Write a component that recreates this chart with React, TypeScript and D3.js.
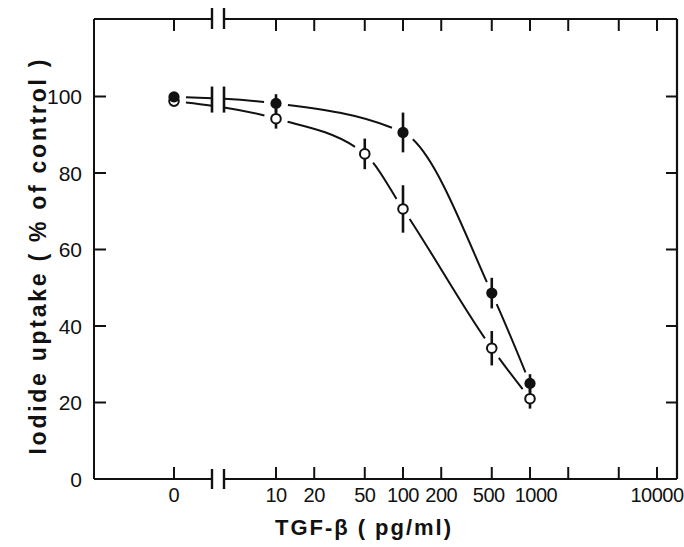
import React from "react";
import * as d3 from "d3";

const filledDose = [0, 10, 100, 500, 1000];
const filledUptake = [99.9, 98.2, 90.6, 48.6, 25.0];
const filledErr = [0, 2.4, 5.2, 4.0, 2.4];

const openDose = [0, 10, 50, 100, 500, 1000];
const openUptake = [98.8, 94.2, 85.0, 70.6, 34.2, 21.0];
const openErr = [0, 2.6, 4.0, 6.2, 4.5, 2.6];

const xTicks = [10, 20, 50, 100, 200, 500, 1000, 2000, 5000, 10000];
const xTickLabels = ["10", "20", "50", "100", "200", "500", "1000", "", "", "10000"];
const yTicks = [20, 40, 60, 80, 100];
const yTickLabels = ["0", "20", "40", "60", "80", "100"];
const yLabelValues = [0, 20, 40, 60, 80, 100];

const W = 684, H = 547;
const L = 94, R = 677, T = 19, B = 479;
const BREAK_L = 212, BREAK_R = 224;

const xLog = d3.scaleLog().domain([10, 10000]).range([276, 657]);
const xZero = d3.scaleLinear().domain([0, 1]).range([174, BREAK_L]);
const y = d3.scaleLinear().domain([0, 120]).range([B, 20]);
const px = (v: number) => (v === 0 ? xZero(0) : xLog(v));

const FONT = "'Liberation Sans', Arial, sans-serif";
const GAP = 12;

type P = [number, number];
type Seg = [P, P, P, P];

function bez(s: Seg, t: number): P {
  const u = 1 - t;
  const a = u * u * u, b = 3 * u * u * t, c = 3 * u * t * t, d = t * t * t;
  return [
    a * s[0][0] + b * s[1][0] + c * s[2][0] + d * s[3][0],
    a * s[0][1] + b * s[1][1] + c * s[2][1] + d * s[3][1],
  ];
}
const lerp = (p: P, q: P, t: number): P => [p[0] + (q[0] - p[0]) * t, p[1] + (q[1] - p[1]) * t];
function splitAt(s: Seg, t: number): [Seg, Seg] {
  const [p0, p1, p2, p3] = s;
  const a = lerp(p0, p1, t), b = lerp(p1, p2, t), c = lerp(p2, p3, t);
  const d = lerp(a, b, t), e = lerp(b, c, t);
  const f = lerp(d, e, t);
  return [[p0, a, d, f], [f, e, c, p3]];
}
function sub(s: Seg, t0: number, t1: number): Seg {
  const left = splitAt(s, t1)[0];
  return splitAt(left, t0 / t1)[1];
}
function bisect(fn: (t: number) => number, lo: number, hi: number): number {
  for (let k = 0; k < 50; k++) {
    const m = (lo + hi) / 2;
    if (fn(m) < 0) lo = m; else hi = m;
  }
  return (lo + hi) / 2;
}
const dist = (p: P, q: P) => Math.hypot(p[0] - q[0], p[1] - q[1]);

function gappedPath(pts: P[]): string {
  const segs: Seg[] = [];
  let cur: P = [0, 0];
  const ctx: any = {
    moveTo(x: number, yy: number) { cur = [x, yy]; },
    lineTo(x: number, yy: number) { segs.push([cur, lerp(cur, [x, yy], 1 / 3), lerp(cur, [x, yy], 2 / 3), [x, yy]]); cur = [x, yy]; },
    bezierCurveTo(a: number, b: number, c: number, d: number, x: number, yy: number) { segs.push([cur, [a, b], [c, d], [x, yy]]); cur = [x, yy]; },
    closePath() {},
  };
  d3.line().curve(d3.curveMonotoneX).context(ctx)(pts);
  let out = "";
  const emit = (s: Seg) => {
    out += `M${s[0][0].toFixed(2)},${s[0][1].toFixed(2)}C${s[1][0].toFixed(2)},${s[1][1].toFixed(2)} ${s[2][0].toFixed(2)},${s[2][1].toFixed(2)} ${s[3][0].toFixed(2)},${s[3][1].toFixed(2)}`;
  };
  segs.forEach((s) => {
    const t0 = bisect((t) => dist(bez(s, t), s[0]) - GAP, 0, 0.5);
    const t1 = bisect((t) => GAP - dist(bez(s, t), s[3]), 0.5, 1);
    if (s[0][0] < BREAK_L && s[3][0] > BREAK_R) {
      const ta = bisect((t) => bez(s, t)[0] - BREAK_L, 0, 1);
      const tb = bisect((t) => bez(s, t)[0] - BREAK_R, 0, 1);
      emit(sub(s, t0, ta));
      emit(sub(s, tb, t1));
    } else {
      emit(sub(s, t0, t1));
    }
  });
  return out;
}

function Series({ dose, vals, errs, filled }: { dose: number[]; vals: number[]; errs: number[]; filled: boolean }) {
  const pts: P[] = dose.map((d, i) => [px(d), y(vals[i])]);
  const line = gappedPath(pts);
  return (
    <g>
      <path d={line} fill="none" stroke="#111" strokeWidth={2} />
      {pts.map((p, i) =>
        errs[i] > 0 ? (
          <line key={"e" + i} x1={p[0]} x2={p[0]} y1={y(vals[i] - errs[i])} y2={y(vals[i] + errs[i])} stroke="#111" strokeWidth={2.6} />
        ) : null
      )}
      {pts.map((p, i) =>
        filled ? (
          <circle key={"c" + i} cx={p[0]} cy={p[1]} r={5.6} fill="#111" />
        ) : (
          <circle key={"c" + i} cx={p[0]} cy={p[1]} r={4.8} fill="white" stroke="#111" strokeWidth={2} />
        )
      )}
    </g>
  );
}

export default function App() {
  const stroke = "#111";
  return (
    <svg width={W} height={H} style={{ position: "absolute", left: 0, top: 0, background: "white" }}>
      <rect x={0} y={0} width={W} height={H} fill="white" />
      <line x1={L} x2={L} y1={T} y2={B} stroke={stroke} strokeWidth={2} />
      <line x1={R} x2={R} y1={T} y2={B} stroke={stroke} strokeWidth={2.2} />
      <line x1={L} x2={BREAK_L} y1={B} y2={B} stroke={stroke} strokeWidth={2} />
      <line x1={BREAK_R} x2={R} y1={B} y2={B} stroke={stroke} strokeWidth={2} />
      <line x1={L} x2={BREAK_L} y1={T} y2={T} stroke={stroke} strokeWidth={2} />
      <line x1={BREAK_R} x2={R} y1={T} y2={T} stroke={stroke} strokeWidth={2} />
      {[BREAK_L, BREAK_R].map((bx) => (
        <g key={bx}>
          <line x1={bx} x2={bx} y1={B - 10} y2={B + 10} stroke={stroke} strokeWidth={2.4} />
          <line x1={bx} x2={bx} y1={T - 11} y2={T + 10} stroke={stroke} strokeWidth={2.4} />
          <line x1={bx} x2={bx} y1={y(102.6)} y2={y(95.8)} stroke={stroke} strokeWidth={2.6} />
        </g>
      ))}
      {[0, ...xTicks].map((t) => (
        <g key={"xt" + t}>
          <line x1={px(t)} x2={px(t)} y1={B} y2={B - 12} stroke={stroke} strokeWidth={2} />
          <line x1={px(t)} x2={px(t)} y1={T} y2={T + 12} stroke={stroke} strokeWidth={2} />
        </g>
      ))}
      <text x={px(0)} y={502} fontFamily={FONT} fontSize={20} textAnchor="middle" fill={stroke}>0</text>
      {xTicks.map((t, i) =>
        xTickLabels[i] ? (
          <text
            key={"xl" + t}
            x={px(t) + (t === 500 ? -3 : t === 1000 ? 6 : 0)}
            y={502}
            fontFamily={FONT}
            fontSize={20}
            letterSpacing={-0.5}
            textAnchor="middle"
            fill={stroke}
          >
            {xTickLabels[i]}
          </text>
        ) : null
      )}
      {yTicks.map((t) => (
        <g key={"yt" + t}>
          <line x1={L} x2={L + 12} y1={y(t)} y2={y(t)} stroke={stroke} strokeWidth={2} />
          <line x1={R} x2={R - 11} y1={y(t)} y2={y(t)} stroke={stroke} strokeWidth={2} />
        </g>
      ))}
      {yLabelValues.map((t, i) => (
        <text key={"yl" + t} x={82} y={y(t) + 7.5} fontFamily={FONT} fontSize={21} textAnchor="end" fill={stroke}>
          {yTickLabels[i]}
        </text>
      ))}
      <text
        transform={`translate(46, 257) rotate(-90)`}
        fontFamily={FONT}
        fontSize={23}
        fontWeight="bold"
        textAnchor="middle"
        textLength={395}
        lengthAdjust="spacing"
        fill={stroke}
      >
        Iodide uptake ( % of control )
      </text>
      <text x={363} y={535} fontFamily={FONT} fontSize={22} fontWeight="bold" textAnchor="middle" textLength={176} lengthAdjust="spacing" fill={stroke}>
        TGF-β ( pg/ml)
      </text>
      <Series dose={openDose} vals={openUptake} errs={openErr} filled={false} />
      <Series dose={filledDose} vals={filledUptake} errs={filledErr} filled={true} />
    </svg>
  );
}
